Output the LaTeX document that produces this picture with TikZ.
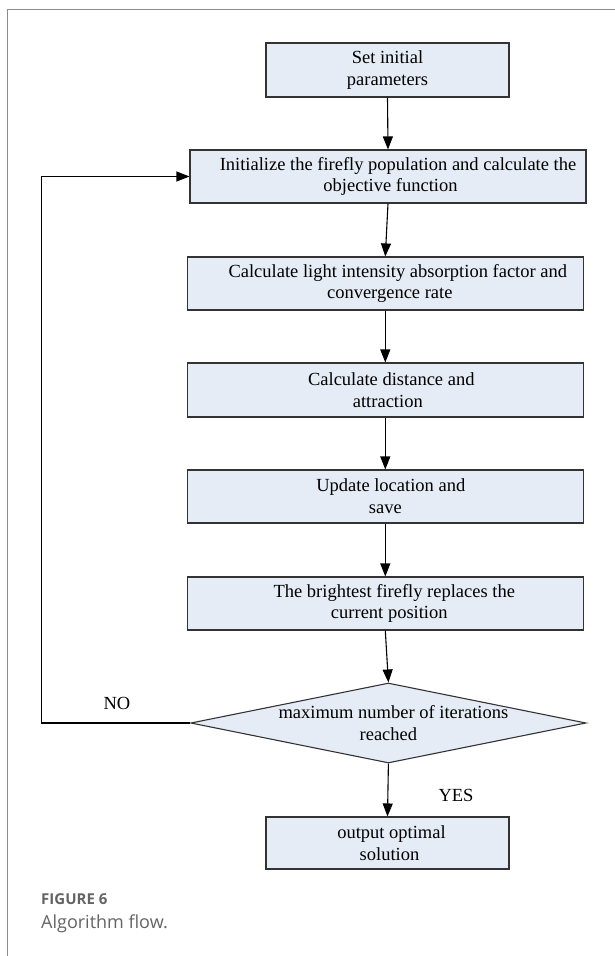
\documentclass[tikz,border=0pt]{standalone}
\usepackage{fontspec}
\setmainfont{Liberation Serif}
\newfontfamily\capfont{Open Sans}
\usetikzlibrary{arrows.meta,shapes.geometric}
\definecolor{boxfill}{RGB}{229,236,246}
\definecolor{framegray}{RGB}{140,140,140}
\definecolor{capgray}{RGB}{100,100,100}
\tikzset{
  stepbox/.style={draw=black!80, fill=boxfill, line width=1.1pt, inner sep=0pt,
    align=center, font=\fontsize{18.5}{21.7}\selectfont},
  decbox/.style={diamond, draw=black!80, fill=boxfill, line width=1.1pt, inner sep=0pt,
    minimum width=395.3pt, minimum height=80pt},
  flow/.style={line width=1.1pt, -{Triangle[length=13pt,width=10pt]}},
  lbl/.style={font=\fontsize{18.5}{21.7}\selectfont, inner sep=0pt}
}
\begin{document}
\begin{tikzpicture}[x=1pt,y=-1pt]
\useasboundingbox (0,0) rectangle (614,956);
\draw[framegray, line width=1.2pt] (7.3,960) -- (7.3,9.3) -- (620,9.3);

\node[stepbox, minimum width=243pt, minimum height=54pt] (b1) at (387.5,70)
  {Set initial\\parameters};
\node[stepbox, minimum width=396pt, minimum height=53pt] (b2) at (388,176.5)
  {\hspace*{20pt}Initialize the firefly population and calculate the\\\hspace*{5pt}objective function};
\node[stepbox, minimum width=395.5pt, minimum height=53pt] (b3) at (385.3,283.5)
  {\hspace*{25pt}Calculate light intensity absorption factor and\\\hspace*{9pt}convergence rate};
\node[stepbox, minimum width=395.5pt, minimum height=54pt] (b4) at (385.3,390)
  {\hspace*{12pt}Calculate distance and\\\hspace*{5pt}attraction};
\node[stepbox, minimum width=395.5pt, minimum height=53pt] (b5) at (385.3,496.5)
  {\hspace*{11pt}Update location and\\save};
\node[stepbox, minimum width=395.5pt, minimum height=53pt] (b6) at (385.3,603.5)
  {\hspace*{18pt}The brightest firefly replaces the\\\hspace*{8pt}current position};
\node[decbox] (dec) at (388.4,723) {};
\node[lbl, align=center] (dect) at (dec.center)
  {\hspace*{10pt}maximum number of iterations\\reached};
\node[stepbox, minimum width=243pt, minimum height=52pt] (out) at (387.5,843)
  {\hspace*{8pt}output optimal\\\hspace*{4pt}solution};

\coordinate (lc) at (41.7,723);
\coordinate (lt) at (41.7,176.5);

\draw[flow] (b1.south) -- (b2.north);
\draw[flow] (b2.south) -- (b3.north);
\draw[flow] (b3.south) -- (b4.north);
\draw[flow] (b4.south) -- (b5.north);
\draw[flow] (b5.south) -- (b6.north);
\draw[flow] (b6.south) -- (dec.north);
\draw[flow] (dec.south) -- (out.north);
\draw[flow] (dec.west) -- (lc) -- (lt) -- (b2.west);

\node[lbl] (no) at (117,703) {NO};
\node[lbl] (yes) at (456,795) {YES};

\node[anchor=base west, inner sep=0pt, text=capgray, font=\capfont\bfseries\fontsize{15}{18}\selectfont] (fig) at (41,904) {FIGURE 6};
\node[anchor=base west, inner sep=0pt, text=capgray, font=\capfont\fontsize{18}{22}\selectfont] (cap) at (41,928) {Algorithm flow.};
\end{tikzpicture}
\end{document}
